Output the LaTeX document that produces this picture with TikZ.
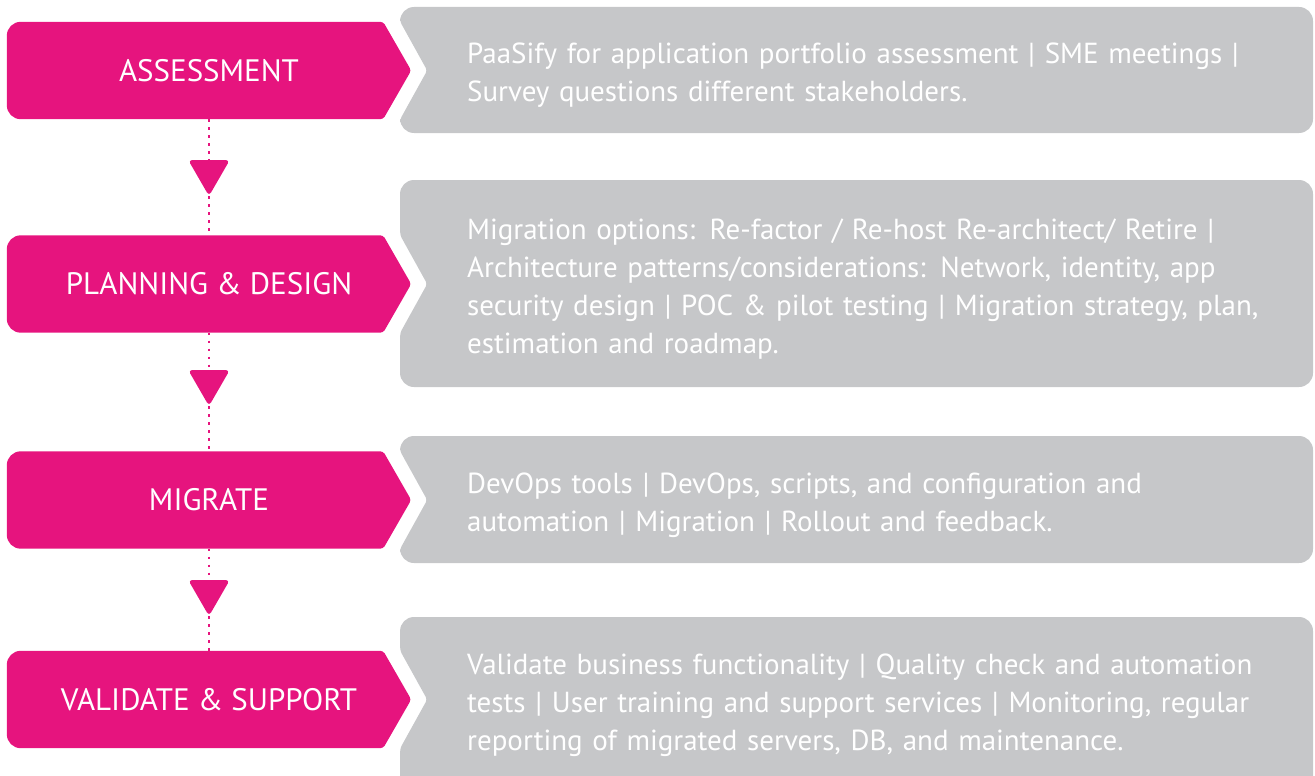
\documentclass[tikz,border=0pt]{standalone}
\usepackage{fontspec}
\setmainfont{PT Sans}
\usetikzlibrary{shapes.geometric, backgrounds}
\definecolor{stagepink}{RGB}{230,20,126}
\definecolor{infogrey}{RGB}{198,199,201}

\begin{document}
\begin{tikzpicture}[x=1pt, y=-1pt]
\useasboundingbox (0,0) rectangle (1315,776);
\clip (0,0) rectangle (1315,776);

\begin{scope}[every node/.style={text=white, inner sep=0pt, minimum width=404pt, minimum height=97pt, font=\fontsize{31}{33}\selectfont}]
    \node (assess) at (209,70.5) {ASSESSMENT};
    \node (plan) at (209,284) {PLANNING \& DESIGN};
    \node (migrate) at (209,500) {MIGRATE};
    \node (validate) at (209,699.5) {VALIDATE \& SUPPORT};
\end{scope}

\begin{scope}[every node/.style={regular polygon, regular polygon sides=3, shape border rotate=180, fill=stagepink, rounded corners=4pt, minimum size=48pt, inner sep=0pt}]
    \node (t1) at (209,172) {};
    \node (t2) at (209,382) {};
    \node (t3) at (209,592) {};
\end{scope}

\begin{scope}[every node/.style={anchor=west, text=white, align=left, text width=846pt, inner sep=0pt, font=\fontsize{29}{38}\selectfont}]
    \node (assessinfo) at (467,75) {PaaSify for application portfolio assessment | SME meetings |\\Survey questions different stakeholders.};
    \node (planinfo) at (467,289) {Migration options: Re-factor / Re-host Re-architect/ Retire |\\Architecture patterns/considerations: Network, identity, app\\security design | POC \& pilot testing | Migration strategy, plan,\\estimation and roadmap.};
    \node (migrateinfo) at (467,505) {DevOps tools | DevOps, scripts, and configuration and\\automation | Migration | Rollout and feedback.};
    \node (validateinfo) at (467,705) {Validate business functionality | Quality check and automation\\tests | User training and support services | Monitoring, regular\\reporting of migrated servers, DB, and maintenance.};
\end{scope}

\begin{scope}[every edge/.style={draw=stagepink, line width=2.4pt, dash pattern=on 2.4pt off 5.6pt}]
    \path (assess) edge (t1);
    \path (t1) edge (plan);
    \path (plan) edge (t2);
    \path (t2) edge (migrate);
    \path (migrate) edge (t3);
    \path (t3) edge (validate);
\end{scope}

\begin{pgfonlayer}{background}
    % pink stages
    \fill[stagepink] (assess.west) [rounded corners=14pt] -- (assess.north west) [rounded corners=3pt] -- ([xshift=-28pt]assess.north east) -- (assess.east) -- ([xshift=-28pt]assess.south east) [rounded corners=14pt] -- (assess.south west) -- cycle;
    \fill[stagepink] (plan.west) [rounded corners=14pt] -- (plan.north west) [rounded corners=3pt] -- ([xshift=-28pt]plan.north east) -- (plan.east) -- ([xshift=-28pt]plan.south east) [rounded corners=14pt] -- (plan.south west) -- cycle;
    \fill[stagepink] (migrate.west) [rounded corners=14pt] -- (migrate.north west) [rounded corners=3pt] -- ([xshift=-28pt]migrate.north east) -- (migrate.east) -- ([xshift=-28pt]migrate.south east) [rounded corners=14pt] -- (migrate.south west) -- cycle;
    \fill[stagepink] (validate.west) [rounded corners=14pt] -- (validate.north west) [rounded corners=3pt] -- ([xshift=-28pt]validate.north east) -- (validate.east) -- ([xshift=-28pt]validate.south east) [rounded corners=14pt] -- (validate.south west) -- cycle;
    % grey panels with notch
    \fill[infogrey] (800,7) [rounded corners=14pt] -- (1313,7) -- (1313,133) -- (400,133) [rounded corners=3pt] -- ([xshift=-11pt]assess.south east) -- ([xshift=16pt]assess.east) -- ([xshift=-11pt]assess.north east) [rounded corners=14pt] -- (400,7) -- cycle;
    \fill[infogrey] (800,180) [rounded corners=14pt] -- (1313,180) -- (1313,387) -- (400,387) [rounded corners=3pt] -- ([xshift=-11pt]plan.south east) -- ([xshift=16pt]plan.east) -- ([xshift=-11pt]plan.north east) [rounded corners=14pt] -- (400,180) -- cycle;
    \fill[infogrey] (800,436) [rounded corners=14pt] -- (1313,436) -- (1313,563) -- (400,563) [rounded corners=3pt] -- ([xshift=-11pt]migrate.south east) -- ([xshift=16pt]migrate.east) -- ([xshift=-11pt]migrate.north east) [rounded corners=14pt] -- (400,436) -- cycle;
    \fill[infogrey] (800,617) [rounded corners=14pt] -- (1313,617) -- (1313,790) -- (400,790) [rounded corners=3pt] -- ([xshift=-11pt]validate.south east) -- ([xshift=16pt]validate.east) -- ([xshift=-11pt]validate.north east) [rounded corners=14pt] -- (400,617) -- cycle;
\end{pgfonlayer}
\end{tikzpicture}
\end{document}
